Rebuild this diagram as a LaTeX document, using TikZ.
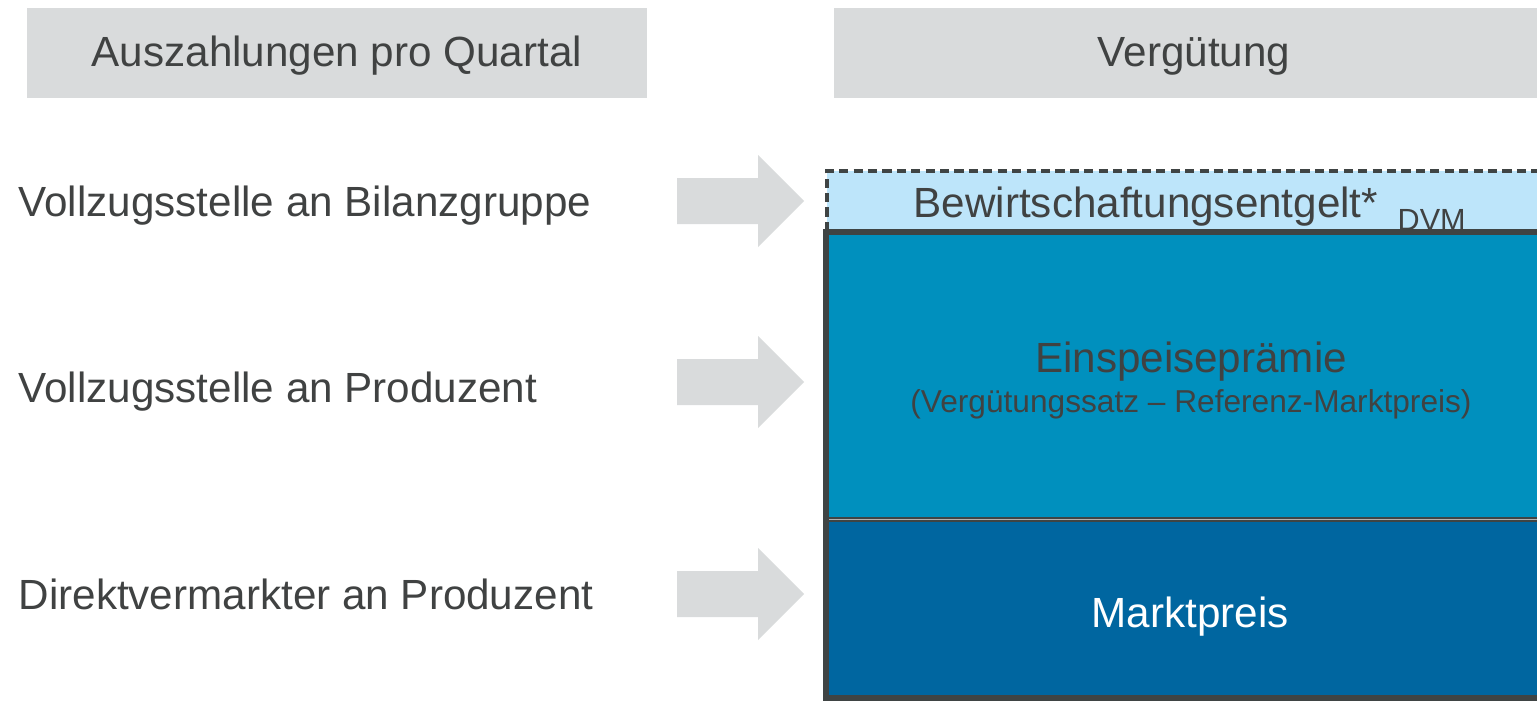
\documentclass[tikz,border=0pt]{standalone}
\usepackage{fontspec}
\setmainfont{Liberation Sans}

\definecolor{kopfgrau}{HTML}{D9DBDC}
\definecolor{pfeilgrau}{HTML}{D9DBDC}
\definecolor{textgrau}{HTML}{404242}
\definecolor{randgrau}{HTML}{3F4444}
\definecolor{hellblau}{HTML}{BDE5FA}
\definecolor{tuerkis}{HTML}{0090BE}
\definecolor{dunkelblau}{HTML}{0066A0}

\begin{document}
\begin{tikzpicture}[x=0.01cm, y=-0.01cm,
    every node/.style={inner sep=0pt, text=textgrau, font=\fontsize{12}{14}\selectfont},
    kopf/.style={fill=kopfgrau, minimum height=0.9cm},
    zeile/.style={anchor=base west}]
    \useasboundingbox (0,0) rectangle (1537,700);

    % -----------------------------------------------------
    % 1) Kopfzeilen
    % -----------------------------------------------------
    \node[kopf, minimum width=6.2cm] (kopfL) at (337,53) {};
    \node[anchor=base] (kopfLtext) at (337,67) {Auszahlungen pro Quartal};
    \node[kopf, minimum width=7.2cm] (kopfR) at (1194,53) {};
    \node[anchor=base] (kopfRtext) at (1194,67) {Vergütung};

    % -----------------------------------------------------
    % 2) Auszahlungen (linke Spalte)
    % -----------------------------------------------------
    \node[zeile] (bilanz) at (18,216) {Vollzugsstelle an Bilanzgruppe};
    \node[zeile] (produzent) at (18,402) {Vollzugsstelle an Produzent};
    \node[zeile] (direkt) at (18,609) {Direktvermarkter an Produzent};

    % -----------------------------------------------------
    % 3) Blockpfeile
    % -----------------------------------------------------
    \foreach \y in {201,382,594}
        \fill[pfeilgrau] (677,\y-23) -- (758,\y-23) -- (758,\y-46) -- (804,\y)
            -- (758,\y+46) -- (758,\y+23) -- (677,\y+23) -- cycle;

    % -----------------------------------------------------
    % 4) Vergütung: gestapelte Blöcke
    % -----------------------------------------------------
    \fill[hellblau] (827,171) rectangle (1560,231);
    \draw[randgrau, line width=1pt, dash pattern=on 2.6pt off 1.5pt]
        (827,231) -- (827,171) -- (1560,171);
    \fill[tuerkis] (826,232) rectangle (1560,519);
    \fill[dunkelblau] (826,519) rectangle (1560,698);
    \draw[randgrau, line width=1.3pt] (826,519.5) -- (1560,519.5);
    \draw[gray!60, line width=0.5pt] (826,519.5) -- (1560,519.5);
    \draw[randgrau, line width=1.45pt] (826,232) rectangle (1570,698);

    % Beschriftungen der Blöcke
    \node[zeile] (entgelt) at (913,217) {Bewirtschaftungsentgelt*};
    \node[zeile, font=\fontsize{8.7}{10}\selectfont] (dvm) at (1397,230) {DVM};
    \node[anchor=base] (praemie) at (1191,372) {Einspeiseprämie};
    \node[anchor=base, font=\fontsize{9}{11}\selectfont] (formel) at (1191,412)
        {(Vergütungssatz – Referenz-Marktpreis)};
    \node[anchor=base, text=white] (markt) at (1190,627) {Marktpreis};

\end{tikzpicture}
\end{document}
